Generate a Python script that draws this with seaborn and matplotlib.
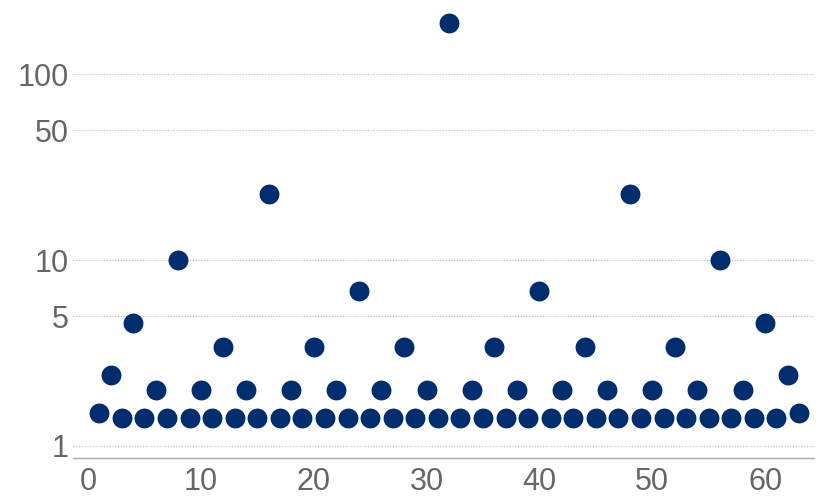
import numpy as np
import pandas as pd
import seaborn as sns
import matplotlib
matplotlib.use("Agg")
import matplotlib.pyplot as plt
from matplotlib.ticker import FixedLocator, MultipleLocator, NullLocator

# values (log scale)
n_values = list(range(1, 64))
heights = [
    1.50, 2.41, 1.41, 4.61, 1.41, 2.00, 1.41, 10.0,
    1.41, 2.00, 1.41, 3.42, 1.41, 2.00, 1.41, 22.7,
    1.41, 2.00, 1.41, 3.42, 1.41, 2.00, 1.41, 6.85,
    1.41, 2.00, 1.41, 3.42, 1.41, 2.00, 1.41, 188.0,
    1.41, 2.00, 1.41, 3.42, 1.41, 2.00, 1.41, 6.85,
    1.41, 2.00, 1.41, 3.42, 1.41, 2.00, 1.41, 22.7,
    1.41, 2.00, 1.41, 3.42, 1.41, 2.00, 1.41, 10.0,
    1.41, 2.00, 1.41, 4.61, 1.41, 2.41, 1.50,
]
y_ticks = [1, 5, 10, 50, 100]
x_ticks = [0, 10, 20, 30, 40, 50, 60]

df = pd.DataFrame({"n": n_values, "value": heights})

sns.set_style("white")
plt.rcParams["font.family"] = ["Liberation Sans", "DejaVu Sans"]

fig = plt.figure(figsize=(8.3, 4.98), dpi=100)
ax = fig.add_axes([0.088, 0.0797, 0.893, 0.9203])

sns.scatterplot(data=df, x="n", y="value", ax=ax, s=205,
                color="#002d6e", linewidth=0, zorder=3)

ax.set_yscale("log")
ax.set_ylim(0.858, 251)
ax.set_xlim(-1.33, 64.35)

ax.yaxis.set_major_locator(FixedLocator(y_ticks))
ax.yaxis.set_minor_locator(NullLocator())
ax.set_yticklabels([str(t) for t in y_ticks])
ax.set_xticks(x_ticks)
ax.xaxis.set_minor_locator(MultipleLocator(2))

gray_text = "#666666"
ax.tick_params(axis="y", length=0, labelsize=22, labelcolor=gray_text, pad=3)
ax.tick_params(axis="x", which="major", direction="in", length=4, width=0.8,
               color="#aaaaaa", labelsize=22, labelcolor=gray_text, pad=6)
ax.tick_params(axis="x", which="minor", direction="in", length=2.5, width=0.8,
               color="#aaaaaa")

ax.yaxis.grid(True, which="major", linestyle=(0, (1, 1.5)), color="#bbbbbb",
              linewidth=0.8)
ax.xaxis.grid(False)

for side in ["left", "top", "right"]:
    ax.spines[side].set_visible(False)
ax.spines["bottom"].set_color("#aaaaaa")
ax.spines["bottom"].set_linewidth(1.0)

ax.set_xlabel("")
ax.set_ylabel("")

fig.savefig("out.png", dpi=100)
